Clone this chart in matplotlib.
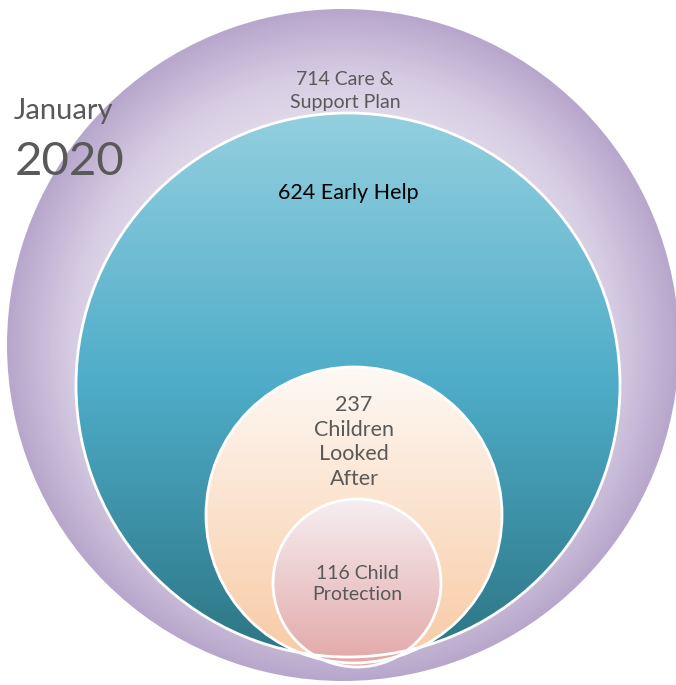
import numpy as np
import matplotlib
matplotlib.use("Agg")
import matplotlib.pyplot as plt
from matplotlib.patches import Circle
from matplotlib.colors import LinearSegmentedColormap

# data
counts = [714, 624, 237, 116]
labels = ["Care &\nSupport Plan", "Early Help", "Children\nLooked\nAfter", "Child\nProtection"]
period_month = "January"
period_year = "2020"

# layout (pixels, y downwards)
centers = [(343, 345), (348, 385), (354, 515), (357, 583)]
radii = [336, 272, 148, 84]
W, H = 676, 685

plt.rcParams['font.family'] = ['Lato', 'DejaVu Sans']
fig = plt.figure(figsize=(W / 100, H / 100), dpi=100)
ax = fig.add_axes([0, 0, 1, 1])
ax.set_xlim(0, W)
ax.set_ylim(H, 0)
ax.set_aspect('equal')
ax.axis('off')


def grad_circle(cx, cy, r, cmap, radial=False, edge=None):
    n = 300
    xs = np.linspace(-1, 1, n)
    X, Y = np.meshgrid(xs, xs)
    if radial:
        img = np.sqrt(X ** 2 + Y ** 2)
    else:
        img = (Y + 1) / 2
    circ = Circle((cx, cy), r, facecolor='none', edgecolor='none')
    ax.add_patch(circ)
    im = ax.imshow(img, cmap=cmap, extent=[cx - r, cx + r, cy + r, cy - r],
                   vmin=0, vmax=1, interpolation='bilinear', zorder=1)
    im.set_clip_path(circ)
    if edge:
        ax.add_patch(Circle((cx, cy), r, facecolor='none', edgecolor=edge, lw=2, zorder=2))


purple = LinearSegmentedColormap.from_list('p', [(0, '#f4f0f8'), (0.55, '#ebe4f1'),
                                                  (0.8, '#d8cee4'), (1, '#b8a7cc')])
blue = LinearSegmentedColormap.from_list('b', [(0, '#93cfdf'), (0.5, '#4eacc8'), (1, '#2c7584')])
peach = LinearSegmentedColormap.from_list('o', [(0, '#fef9f5'), (1, '#f8caa3')])
pink = LinearSegmentedColormap.from_list('k', [(0, '#f6eef1'), (1, '#e2a7a6')])

cmaps = [purple, blue, peach, pink]
for i, ((cx, cy), r) in enumerate(zip(centers, radii)):
    grad_circle(cx, cy, r, cmaps[i], radial=(i == 0), edge=None if i == 0 else 'white')

grey = '#595959'
ax.text(345, 91, f"{counts[0]} {labels[0]}", ha='center', va='center', fontsize=14,
        color=grey, linespacing=1.45, zorder=5)
ax.text(348, 193, f"{counts[1]} {labels[1]}", ha='center', va='center', fontsize=15.5,
        color='black', zorder=5)
ax.text(354, 442, f"{counts[2]}\n{labels[2]}", ha='center', va='center', fontsize=15.5,
        color=grey, linespacing=1.3, zorder=5)
ax.text(357, 584, f"{counts[3]} {labels[3]}", ha='center', va='center', fontsize=14,
        color=grey, linespacing=1.3, zorder=5)

ax.text(14, 111, period_month, ha='left', va='center', fontsize=21, color=grey, zorder=5)
ax.text(15, 162, period_year, ha='left', va='center', fontsize=34, color=grey, zorder=5)

fig.savefig("out.png", dpi=100)
